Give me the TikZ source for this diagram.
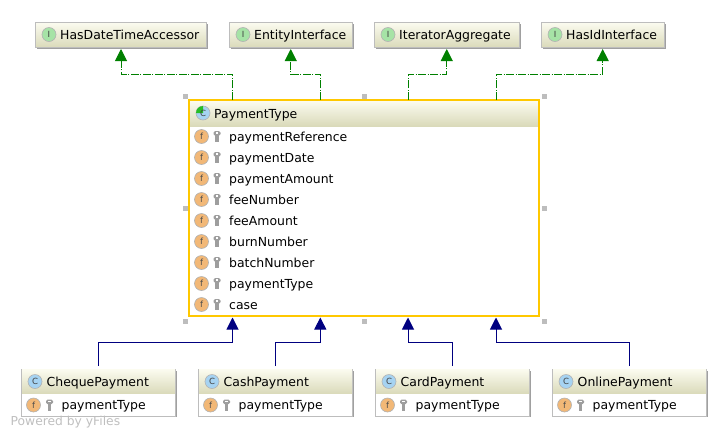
\documentclass[tikz,border=0pt]{standalone}
\usepackage{fontspec}
\setmainfont{DejaVu Sans}
\usetikzlibrary{arrows.meta}
\definecolor{headtop}{HTML}{FBFBEF}
\definecolor{headbot}{HTML}{DADABA}
\definecolor{boxedge}{HTML}{BDBDBD}
\definecolor{shadowc}{HTML}{A0A0A0}
\definecolor{selc}{HTML}{FFC800}
\definecolor{implc}{HTML}{008000}
\definecolor{extc}{HTML}{000080}
\definecolor{ifaceg}{HTML}{A6E3A6}
\definecolor{classb}{HTML}{A6D3F2}
\definecolor{fieldo}{HTML}{F2B877}
\newcommand{\lbl}{\fontsize{12.45pt}{14pt}\selectfont}
\newcommand{\ico}{\fontsize{8.5pt}{9pt}\selectfont}
\tikzset{
  x=1pt,y=-1pt,
  headbox/.style={rectangle,draw=boxedge,line width=0.9pt,top color=headtop,bottom color=headbot,inner sep=0pt,minimum height=25pt,outer sep=0pt},
  classbody/.style={rectangle,draw=boxedge,line width=0.9pt,fill=white,inner sep=0pt,outer sep=0pt},
  label/.style={inner sep=0pt,anchor=base west,font=\lbl,text=black},
  iconbase/.style={circle,minimum size=14pt,inner sep=0pt,font=\ico,text=black!75,line width=0.6pt},
  ifaceicon/.style={iconbase,draw=black!30,fill=ifaceg},
  classicon/.style={iconbase,draw=black!30,fill=classb},
  fieldicon/.style={iconbase,draw=black!30,fill=fieldo,text=black!70},
  impl/.style={draw=implc,line width=1pt,dash pattern=on 8pt off 1.5pt on 1pt off 1.5pt,-{Triangle[length=12pt,width=12pt,fill=implc]},shorten >=1.5pt},
  ext/.style={draw=extc,line width=1pt,-{Triangle[length=12pt,width=12pt,fill=extc]},shorten >=1.5pt},
  handle/.style={rectangle,fill=boxedge,minimum size=5pt,inner sep=0pt,outer sep=0pt},
  watermark/.style={inner sep=0pt,anchor=base west,text=black!25,font=\fontsize{12.3pt}{14pt}\selectfont},
}
% key icon at (x,y) centre
\newcommand{\keyicon}[2]{%
  \fill[black!38,rounded corners=1.5pt] (#1-3.5,#2-5.5) rectangle (#1+3.5,#2-0.8);
  \fill[black!38] (#1-1.6,#2-1.2) rectangle (#1+1.6,#2+5.5);
  \fill[white] (#1-1.2,#2-4.3) rectangle (#1+1.2,#2-3);
}
% iface: name, left, right, text
\newcommand{\iface}[4]{%
  \fill[shadowc] (#2+1.5,24) rectangle (#3+1.5,48.5);
  \node[headbox,minimum width=#3pt-#2pt] (#1) at ({(#2+#3)/2},35) {};
  \node[ifaceicon] (#1i) at (#2+13.5,34.5) {I};
  \node[label] (#1t) at (#2+24.5,39) {#4};
}
% class with one field: name, left, text
\newcommand{\subclass}[3]{%
  \fill[shadowc] (#2+1.5,371) rectangle (#2+155.5,417);
  \node[classbody,minimum width=154pt,minimum height=47pt] (#1) at (#2+77,392.5) {};
  \shade[top color=headtop,bottom color=headbot] (#2+.5,369.5) rectangle (#2+153.5,393.5);
  \node[classicon] (#1i) at (#2+13.5,381.5) {C};
  \node[label] (#1t) at (#2+25,386) {#3};
  \node[fieldicon] (#1fi) at (#2+12,405) {f};
  \keyicon{#2+28}{405}
  \node[label] (#1f) at (#2+40,409.5) {paymentType};
}
\newcommand{\mfield}[3]{%
  \node[fieldicon] (#1i) at (201.5,#2) {f};
  \keyicon{217}{#2}
  \node[label] (#1) at (229,#2+4.5) {#3};
}
\begin{document}
\begin{tikzpicture}
\useasboundingbox (0,0) rectangle (728,437);
\iface{hdta}{35.5}{206.5}{HasDateTimeAccessor}
\iface{ent}{229.5}{352}{EntityInterface}
\iface{itag}{374.5}{519}{IteratorAggregate}
\iface{hid}{541.5}{664.5}{HasIdInterface}

\foreach \hx/\hy [count=\i] in {185/96,364.5/96,544.5/96,185/208,544.5/208,185/321,364.5/321,544.5/321}
  \node[handle] (h\i) at (\hx,\hy) {};

\node[rectangle,fill=white,minimum width=350pt,minimum height=216pt,inner sep=0pt,outer sep=0pt] (main) at (364,208) {};
\shade[top color=headtop,bottom color=headbot] (190,101) rectangle (538,126);
\draw[selc,line width=2.8pt] (189,100) rectangle (539,316);
\node[classicon] (maini) at (203,113) {};
\fill[green!70!black!85] (203,113) -- (203,106) arc (270:180:7) -- cycle;
\node[inner sep=0pt,font=\ico,text=black!75] (mainc) at (203,113) {C};
\node[label] (maint) at (214,118) {PaymentType};
\mfield{f1}{136.5}{paymentReference}
\mfield{f2}{157.5}{paymentDate}
\mfield{f3}{178.5}{paymentAmount}
\mfield{f4}{199.5}{feeNumber}
\mfield{f5}{220.5}{feeAmount}
\mfield{f6}{241.5}{burnNumber}
\mfield{f7}{262.5}{batchNumber}
\mfield{f8}{283.5}{paymentType}
\mfield{f9}{304.5}{case}

\subclass{chq}{21.5}{ChequePayment}
\subclass{csh}{198.5}{CashPayment}
\subclass{crd}{375.5}{CardPayment}
\subclass{onl}{552.5}{OnlinePayment}

\draw[impl] ([xshift=-131.5pt]main.north) -- ++(0,-26) -| ([xshift=0pt]hdta.south);
\draw[impl] ([xshift=-43.5pt]main.north) -- ++(0,-26) -| ([xshift=0pt]ent.south);
\draw[impl] ([xshift=44pt]main.north) -- ++(0,-26) -| ([xshift=0pt]itag.south);
\draw[impl] ([xshift=132pt]main.north) -- ++(0,-26) -| ([xshift=-0.3pt]hid.south);

\draw[ext] ([xshift=0pt]chq.north) ++(0,-3) -- ++(0,-23.5) -| ([xshift=-131.5pt]main.south);
\draw[ext] ([xshift=0pt]csh.north) ++(0,-3) -- ++(0,-23.5) -| ([xshift=-43.7pt]main.south);
\draw[ext] ([xshift=0pt]crd.north) ++(0,-3) -- ++(0,-23.5) -| ([xshift=44pt]main.south);
\draw[ext] ([xshift=0pt]onl.north) ++(0,-3) -- ++(0,-23.5) -| ([xshift=132pt]main.south);

\node[watermark] (wm) at (10.5,425) {Powered by yFiles};
\end{tikzpicture}
\end{document}
